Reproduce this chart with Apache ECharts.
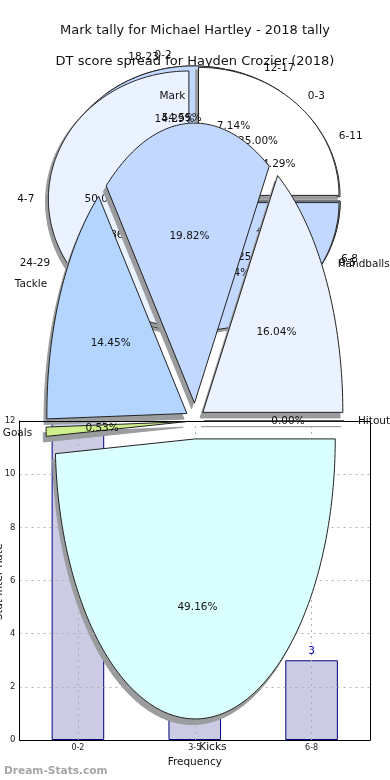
<!DOCTYPE html>
<html>
<head>
<meta charset="utf-8">
<style>html,body{margin:0;padding:0;background:#fff}#c{width:390px;height:780px}</style>
<script src="https://cdn.jsdelivr.net/npm/echarts@6/dist/echarts.min.js"></script>
</head>
<body>
<div id="c"></div>
<script>
// Mark tally pie
const markBins = ['0-3', '4-7', '8-11'];
const markShares = [25.0, 50.0, 25.0];
// DT score pie
const dtBins = ['6-11', '12-17', '18-23', '24-29', '30-35', '0-5'];
const dtShares = [14.29, 7.14, 14.29, 42.86, 7.14, 14.29];
// Third (untitled) frequency pie
const freqPieBins = ['0-2', '3-5', '6-8'];
const freqPieShares = [54.55, 32.15, 13.3];
// Stat breakdown pie
const statNames = ['Hitout', 'Handballs', 'Mark', 'Tackle', 'Goals', 'Kicks'];
const statShares = [0.0, 16.04, 19.82, 14.45, 0.53, 49.16];
// Bar chart
const barBins = ['0-2', '3-5', '6-8'];
const barCounts = [12, 1, 3];
const yTicks = [0, 12, 2];

const FONT = '"DejaVu Sans"';
const OUT = '#222';
const SHADOW = '#9a9c9e';
const backGeom = {cx: 194.5, cy: 199, rx: 140.5, ry: 128, ex: 0.04, fs: 10.5};
const frontGeom = {cx: 195, cy: 421, rx: 140, ry: 280, ex: 0.064, fs: 10.5};

function sliceOf(values, i, g) {
  const total = values.reduce((a, b) => a + b, 0);
  let acc = 0;
  for (let k = 0; k < i; k++) acc += values[k];
  const a0 = acc / total * 2 * Math.PI;
  const a1 = (acc + values[i]) / total * 2 * Math.PI;
  const m = (a0 + a1) / 2;
  return {a0, a1, m,
    cx: g.cx + g.ex * g.rx * Math.cos(m),
    cy: g.cy - g.ex * g.ry * Math.sin(m)};
}
function polygonOf(s, g, ox, oy) {
  const pts = [[s.cx + ox, s.cy + oy]];
  const n = Math.max(1, Math.ceil((s.a1 - s.a0) / (Math.PI / 180)));
  for (let j = 0; j <= n; j++) {
    const a = s.a0 + (s.a1 - s.a0) * j / n;
    pts.push([s.cx + ox + g.rx * Math.cos(a), s.cy + oy - g.ry * Math.sin(a)]);
  }
  return pts;
}
function sliceSeries(values, colors, g, z, isShadow) {
  return {
    type: 'custom', coordinateSystem: 'none', silent: true, z: z, clip: false,
    data: values.map((v) => [v]),
    renderItem(params) {
      const s = sliceOf(values, params.dataIndex, g);
      const ox = isShadow ? -0.02 * g.rx : 0, oy = isShadow ? 0.02 * g.ry : 0;
      return {
        type: 'polygon',
        shape: {points: polygonOf(s, g, ox, oy)},
        style: isShadow
          ? {fill: SHADOW, stroke: SHADOW, lineWidth: 1}
          : {fill: colors[params.dataIndex % colors.length], stroke: OUT, lineWidth: 1}
      };
    }
  };
}
function labelSeries(values, names, g, z) {
  return {
    type: 'custom', coordinateSystem: 'none', silent: true, z: z, clip: false,
    data: values.map((v) => [v]),
    renderItem(params) {
      const i = params.dataIndex;
      const s = sliceOf(values, i, g);
      const lx = s.cx + 1.1 * g.rx * Math.cos(s.m);
      const ly = s.cy - 1.1 * g.ry * Math.sin(s.m);
      const px = s.cx + 0.6 * g.rx * Math.cos(s.m);
      const py = s.cy - 0.6 * g.ry * Math.sin(s.m);
      const txt = (x, y, text, align) => ({
        type: 'text',
        style: {x, y: y + 0.6, text, align, verticalAlign: 'middle', fill: '#111',
                fontFamily: FONT, fontSize: g.fs}
      });
      return {type: 'group', children: [
        txt(lx, ly, names[i], lx > g.cx ? 'left' : 'right'),
        txt(px, py, values[i].toFixed(2) + '%', 'center')
      ]};
    }
  };
}

const backCols = ['#ffffff', '#eaf1ff', '#c2d8ff'];
const dtCols = ['#ffffff', '#eaf1ff', '#c2d8ff'];
const freqCols = ['#c2d8ff', '#eaf1ff', '#c2d8ff'];
const statCols = ['#ffffff', '#eaf1ff', '#c2d8ff', '#b4d5ff', '#cfee8c', '#d9ffff'];

const titleStyle = {fontFamily: FONT, fontWeight: 'normal', fontSize: 13, color: '#111'};
const gridDots = {type: [2, 4], color: '#b0b0b0', width: 1};
const option = {
  animation: false,
  backgroundColor: '#fff',
  title: [
    {text: 'Mark tally for Michael Hartley - 2018 tally', left: 'center', top: 19, textStyle: titleStyle, z: 1},
    {text: 'DT score spread for Hayden Crozier (2018)', left: 'center', top: 50, textStyle: titleStyle, z: 1},
    {text: 'Dream-Stats.com', left: -1, top: 761,
     textStyle: {fontFamily: FONT, fontWeight: 'bold', fontSize: 10.6, color: '#a6a6a6'}}
  ],
  graphic: {elements: [{
    type: 'text', x: -1, y: 582, rotation: Math.PI / 2, z: 10,
    style: {text: 'Stat Inter Rate', fontFamily: FONT, fontSize: 10.5, fill: '#111',
            align: 'center', verticalAlign: 'middle'}
  }]},
  grid: {left: 19.5, right: 20, top: 421, bottom: 40, outerBoundsMode: 'none'},
  xAxis: [
    {type: 'category', data: barBins, position: 'bottom', z: 7,
     name: 'Frequency', nameLocation: 'middle', nameGap: 17,
     nameTextStyle: {fontFamily: FONT, fontSize: 10.5, color: '#111'},
     axisLine: {onZero: false, lineStyle: {color: '#000', width: 1}},
     axisTick: {show: false},
     axisLabel: {fontFamily: FONT, fontSize: 8, color: '#222', margin: 4},
     splitLine: {show: false}},
    {type: 'category', data: barBins, position: 'top', z: 7,
     axisLine: {onZero: false, lineStyle: {color: '#000', width: 1}},
     axisTick: {show: false}, axisLabel: {show: false}, splitLine: {show: false}}
  ],
  yAxis: [
    {type: 'value', min: yTicks[0], max: yTicks[1], interval: yTicks[2], position: 'left', z: 7,
     axisLine: {show: true, onZero: false, lineStyle: {color: '#000', width: 1}},
     axisTick: {show: false},
     axisLabel: {fontFamily: FONT, fontSize: 8.5, color: '#222', margin: 4},
     splitLine: {show: true, lineStyle: gridDots}},
    {type: 'value', min: yTicks[0], max: yTicks[1], interval: yTicks[2], position: 'right', z: 7,
     axisLine: {show: true, onZero: false, lineStyle: {color: '#000', width: 1}},
     axisTick: {show: false}, axisLabel: {show: false}, splitLine: {show: false}}
  ],
  series: [
    sliceSeries(dtShares, dtCols, backGeom, 1, true),
    sliceSeries(dtShares, dtCols, backGeom, 1.1, false),
    sliceSeries(freqPieShares, freqCols, backGeom, 1.2, true),
    sliceSeries(freqPieShares, freqCols, backGeom, 1.3, false),
    sliceSeries(markShares, backCols, backGeom, 1.4, true),
    sliceSeries(markShares, backCols, backGeom, 1.5, false),
    labelSeries(dtShares, dtBins, backGeom, 2),
    labelSeries(freqPieShares, freqPieBins, backGeom, 2),
    labelSeries(markShares, markBins, backGeom, 2),
    {type: 'bar', data: barCounts, barWidth: '45%', z: 4,
     itemStyle: {color: '#cbcbe4', borderColor: '#000080', borderWidth: 1},
     label: {show: true, position: 'top', distance: 3, color: '#0000bb', fontFamily: FONT, fontSize: 10.5},
     markLine: {silent: true, symbol: 'none', label: {show: false}, lineStyle: gridDots, animation: false,
                data: barBins.map((b) => ({xAxis: b}))}},
    sliceSeries(statShares, statCols, frontGeom, 6, true),
    sliceSeries(statShares, statCols, frontGeom, 8, false),
    labelSeries(statShares, statNames, frontGeom, 9)
  ]
};
echarts.init(document.getElementById('c'), null, {renderer: 'canvas'}).setOption(option);
</script>
</body>
</html>
